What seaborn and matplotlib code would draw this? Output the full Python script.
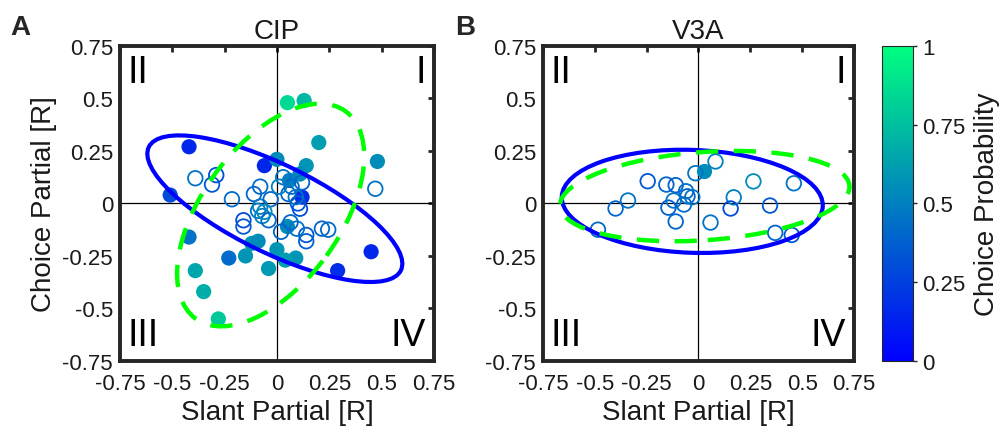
import numpy as np
import pandas as pd
import matplotlib
matplotlib.use("Agg")
import matplotlib.pyplot as plt
import seaborn as sns
from matplotlib.patches import Ellipse
from matplotlib.colors import Normalize
from matplotlib import cm

# --- CIP: significant (filled) cells ---
cip_fill_x = [-0.42, -0.51, -0.06, 0.05, 0.13, 0.20, 0.48, 0.00, 0.14, 0.11, 0.12, 0.06, 0.05,
              -0.42, -0.39, -0.35, -0.23, -0.28, -0.15, -0.12, -0.09, 0.00, 0.09, -0.04, 0.45, 0.29, 0.04]
cip_fill_y = [0.27, 0.04, 0.18, 0.48, 0.49, 0.29, 0.20, 0.21, 0.18, 0.14, 0.03, 0.11, -0.11,
              -0.16, -0.32, -0.42, -0.26, -0.55, -0.25, -0.19, -0.18, -0.22, -0.26, -0.31, -0.23, -0.32, -0.27]
cip_fill_cp = [0.15, 0.30, 0.15, 0.85, 0.72, 0.62, 0.55, 0.55, 0.58, 0.55, 0.18, 0.50, 0.55,
               0.45, 0.65, 0.68, 0.42, 0.78, 0.58, 0.60, 0.55, 0.58, 0.58, 0.60, 0.15, 0.18, 0.62]

# --- CIP: non-significant (open) cells ---
cip_open_x = [-0.39, -0.31, -0.29, -0.215, -0.11, -0.08, -0.16, -0.16, -0.09, -0.07, -0.08, -0.04,
              0.02, 0.03, 0.055, 0.07, 0.10, 0.11, 0.09, 0.14, 0.14, 0.215, 0.245, 0.095, 0.065,
              0.47, -0.03, -0.06, 0.01, 0.12]
cip_open_y = [0.12, 0.09, 0.135, 0.02, 0.045, 0.08, -0.08, -0.11, -0.035, -0.06, -0.015, -0.08,
              -0.135, 0.125, 0.045, 0.08, 0.00, -0.025, 0.03, -0.15, -0.18, -0.12, -0.125, -0.12, -0.09,
              0.07, 0.02, -0.04, 0.08, 0.10]
cip_open_cp = [0.45, 0.35, 0.30, 0.42, 0.40, 0.42, 0.30, 0.35, 0.45, 0.50, 0.48, 0.40,
               0.40, 0.45, 0.40, 0.42, 0.35, 0.30, 0.45, 0.35, 0.38, 0.40, 0.42, 0.45, 0.40,
               0.45, 0.40, 0.55, 0.50, 0.40]

# --- V3A ---
v3a_fill_x = [0.025]
v3a_fill_y = [0.154]
v3a_fill_cp = [0.55]

v3a_open_x = [-0.245, -0.155, -0.11, -0.06, -0.053, -0.12, -0.07, -0.145, -0.11, -0.34, -0.40, -0.485,
              -0.015, 0.082, 0.058, 0.265, 0.46, 0.17, 0.155, 0.345, 0.37, 0.45, -0.03]
v3a_open_y = [0.106, 0.09, 0.087, 0.058, 0.034, 0.014, -0.005, -0.02, -0.086, 0.014, -0.024, -0.125,
              0.144, 0.20, -0.091, 0.105, 0.096, 0.029, -0.024, -0.01, -0.14, -0.15, 0.03]
v3a_open_cp = [0.35, 0.40, 0.38, 0.42, 0.40, 0.45, 0.42, 0.38, 0.40, 0.45, 0.40, 0.42,
               0.45, 0.50, 0.45, 0.55, 0.45, 0.50, 0.30, 0.35, 0.40, 0.35, 0.45]

# ellipse parameters: (center x, center y, semi-major, semi-minor, angle deg)
cip_blue_ell = (-0.01, -0.025, 0.67, 0.21, -26.0)
cip_green_ell = (-0.03, -0.055, 0.61, 0.33, 54.0)
v3a_blue_ell = (-0.03, 0.01, 0.63, 0.245, -2.0)
v3a_green_ell = (0.03, 0.035, 0.70, 0.21, 4.0)

ticks = [-0.75, -0.5, -0.25, 0, 0.25, 0.5, 0.75]
tick_labels = ["-0.75", "-0.5", "-0.25", "0", "0.25", "0.5", "0.75"]
cbar_ticks = [0, 0.25, 0.5, 0.75, 1]
cbar_labels = ["0", "0.25", "0.5", "0.75", "1"]

sns.set_style("white")
plt.rcParams['font.family'] = ['Liberation Sans', 'DejaVu Sans']

fig = plt.figure(figsize=(10.03, 4.35), dpi=100)
axA = fig.add_axes([0.1196, 0.168, 0.313, 0.724])
axB = fig.add_axes([0.5414, 0.168, 0.310, 0.724])
cax = fig.add_axes([0.8794, 0.168, 0.031, 0.724])

spine_col = "#262626"


def draw_panel(ax, fx, fy, fcp, ox, oy, ocp, blue_ell, green_ell, title):
    ax.axhline(0, color="black", lw=0.9, zorder=1)
    ax.axvline(0, color="black", lw=0.9, zorder=1)

    df_f = pd.DataFrame({"x": fx, "y": fy, "cp": fcp})
    sns.scatterplot(data=df_f, x="x", y="y", hue="cp", palette="winter", hue_norm=(0, 1),
                    s=120, linewidth=0, legend=False, ax=ax, zorder=2)

    df_o = pd.DataFrame({"x": ox, "y": oy, "cp": ocp})
    sns.scatterplot(data=df_o, x="x", y="y", hue="cp", palette="winter", hue_norm=(0, 1),
                    s=110, legend=False, ax=ax, zorder=3)
    coll = ax.collections[-1]
    ec = coll.get_facecolors()
    coll.set_edgecolors(ec)
    coll.set_facecolors("none")
    coll.set_linewidths(1.3)

    cx, cy, a, b, ang = blue_ell
    ax.add_patch(Ellipse((cx, cy), 2 * a, 2 * b, angle=ang, fill=False,
                         edgecolor="#0000ff", lw=3.0, zorder=4))
    cx, cy, a, b, ang = green_ell
    ax.add_patch(Ellipse((cx, cy), 2 * a, 2 * b, angle=ang, fill=False,
                         edgecolor="#00ff00", lw=3.2, ls=(0, (5, 3.5)), zorder=5))

    ax.set_xlim(-0.75, 0.75)
    ax.set_ylim(-0.75, 0.75)
    ax.set_xticks(ticks)
    ax.set_yticks(ticks)
    ax.set_xticklabels(tick_labels)
    ax.set_yticklabels(tick_labels)
    ax.tick_params(direction="in", length=4, width=2, colors=spine_col, labelcolor="#1a1a1a",
                   labelsize=16, top=True, right=True, pad=5)
    ax.tick_params(axis="x", pad=9)
    for sp in ax.spines.values():
        sp.set_visible(True)
        sp.set_color(spine_col)
        sp.set_linewidth(2.8)
    ax.set_xlabel("Slant Partial [R]", fontsize=20, color="#1a1a1a", labelpad=3)
    ax.set_title(title, fontsize=20, color="#1a1a1a", pad=6)

    kw = dict(transform=ax.transAxes, fontsize=27, color="black")
    ax.text(0.025, 0.975, "II", ha="left", va="top", **kw)
    ax.text(0.975, 0.975, "I", ha="right", va="top", **kw)
    ax.text(0.025, 0.025, "III", ha="left", va="bottom", **kw)
    ax.text(0.975, 0.025, "IV", ha="right", va="bottom", **kw)


draw_panel(axA, cip_fill_x, cip_fill_y, cip_fill_cp, cip_open_x, cip_open_y, cip_open_cp,
           cip_blue_ell, cip_green_ell, "CIP")
draw_panel(axB, v3a_fill_x, v3a_fill_y, v3a_fill_cp, v3a_open_x, v3a_open_y, v3a_open_cp,
           v3a_blue_ell, v3a_green_ell, "V3A")
axA.set_ylabel("Choice Partial [R]", fontsize=20, color="#1a1a1a", labelpad=4)
axB.set_ylabel("")

sm = cm.ScalarMappable(norm=Normalize(0, 1), cmap="winter")
cb = fig.colorbar(sm, cax=cax)
cb.set_ticks(cbar_ticks)
cb.set_ticklabels(cbar_labels)
cb.ax.tick_params(labelsize=16, length=3, width=1, colors=spine_col, labelcolor="#1a1a1a")
cb.outline.set_edgecolor(spine_col)
cb.outline.set_linewidth(0.8)
cb.set_label("Choice Probability", fontsize=20, color="#1a1a1a", labelpad=6)

fig.text(0.010, 0.965, "A", fontsize=20, fontweight="bold", va="top")
fig.text(0.454, 0.965, "B", fontsize=20, fontweight="bold", va="top")

fig.savefig("out.png", dpi=100)
